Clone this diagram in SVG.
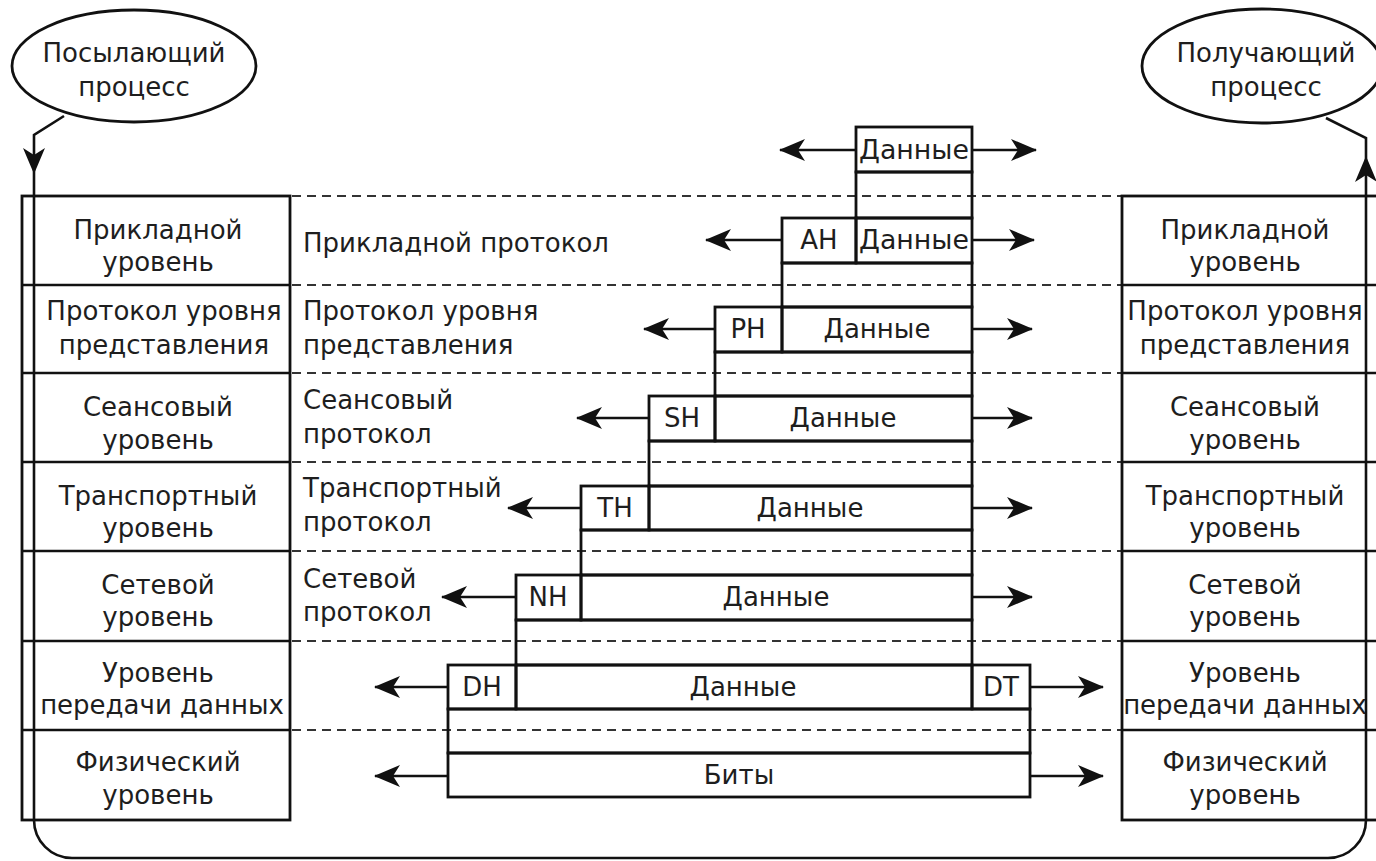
<svg xmlns="http://www.w3.org/2000/svg" xmlns:xlink="http://www.w3.org/1999/xlink" width="1376" height="861" viewBox="0 0 1376 861">
<style>
text{font-family:"DejaVu Sans","Liberation Sans",Arial,sans-serif;font-size:26px;fill:#1e1e1e}
.c{text-anchor:middle}
.box{fill:none;stroke:#111;stroke-width:2.8}
.ln{fill:none;stroke:#111;stroke-width:2.6}
.dash{fill:none;stroke:#333;stroke-width:2.2;stroke-dasharray:9 6}
.ah{fill:#111}
</style>
<defs>
<marker id="arr" viewBox="0 0 26 22" markerWidth="26" markerHeight="22" refX="25" refY="11" orient="auto" markerUnits="userSpaceOnUse">
<path d="M0,0 L26,11 L0,22 L7,11 z" fill="#111"/>
</marker>
<path id="head" d="M0,0 L-11,-26 L0,-19 L11,-26 z"/>
</defs>
<rect width="1376" height="861" fill="#fff"/>

<g id="dashes">
<line class="dash" x1="292" y1="196" x2="1122" y2="196"/>
<line class="dash" x1="292" y1="285" x2="1122" y2="285"/>
<line class="dash" x1="292" y1="373" x2="1122" y2="373"/>
<line class="dash" x1="292" y1="462" x2="1122" y2="462"/>
<line class="dash" x1="292" y1="551" x2="1122" y2="551"/>
<line class="dash" x1="292" y1="641" x2="1122" y2="641"/>
<line class="dash" x1="292" y1="730" x2="1122" y2="730"/>
</g>

<g id="sender">
<ellipse class="box" cx="134" cy="66" rx="122" ry="56"/>
<text class="c" x="134" y="62">Посылающий</text>
<text class="c" x="134" y="96">процесс</text>
</g>
<g id="receiver">
<ellipse class="box" cx="1262" cy="66" rx="120" ry="57"/>
<text class="c" x="1266" y="62">Получающий</text>
<text class="c" x="1266" y="96">процесс</text>
</g>

<g id="left-stack">
<rect class="box" x="22" y="196" width="268" height="624"/>
<line class="ln" x1="22" y1="285" x2="290" y2="285"/>
<line class="ln" x1="22" y1="373" x2="290" y2="373"/>
<line class="ln" x1="22" y1="462" x2="290" y2="462"/>
<line class="ln" x1="22" y1="551" x2="290" y2="551"/>
<line class="ln" x1="22" y1="641" x2="290" y2="641"/>
<line class="ln" x1="22" y1="730" x2="290" y2="730"/>
<text class="c" x="158" y="239">Прикладной</text>
<text class="c" x="158" y="271">уровень</text>
<text class="c" x="164" y="320">Протокол уровня</text>
<text class="c" x="164" y="354">представления</text>
<text class="c" x="158" y="416">Сеансовый</text>
<text class="c" x="158" y="449">уровень</text>
<text class="c" x="158" y="505">Транспортный</text>
<text class="c" x="158" y="537">уровень</text>
<text class="c" x="158" y="594">Сетевой</text>
<text class="c" x="158" y="626">уровень</text>
<text class="c" x="158" y="682">Уровень</text>
<text class="c" x="162" y="714">передачи данных</text>
<text class="c" x="158" y="771">Физический</text>
<text class="c" x="158" y="804">уровень</text>
</g>

<g id="right-stack">
<rect class="box" x="1122" y="196" width="260" height="624"/>
<line class="ln" x1="1122" y1="285" x2="1376" y2="285"/>
<line class="ln" x1="1122" y1="373" x2="1376" y2="373"/>
<line class="ln" x1="1122" y1="462" x2="1376" y2="462"/>
<line class="ln" x1="1122" y1="551" x2="1376" y2="551"/>
<line class="ln" x1="1122" y1="641" x2="1376" y2="641"/>
<line class="ln" x1="1122" y1="730" x2="1376" y2="730"/>
<text class="c" x="1245" y="239">Прикладной</text>
<text class="c" x="1245" y="271">уровень</text>
<text class="c" x="1245" y="320">Протокол уровня</text>
<text class="c" x="1245" y="354">представления</text>
<text class="c" x="1245" y="416">Сеансовый</text>
<text class="c" x="1245" y="449">уровень</text>
<text class="c" x="1245" y="505">Транспортный</text>
<text class="c" x="1245" y="537">уровень</text>
<text class="c" x="1245" y="594">Сетевой</text>
<text class="c" x="1245" y="626">уровень</text>
<text class="c" x="1245" y="682">Уровень</text>
<text class="c" x="1245" y="714">передачи данных</text>
<text class="c" x="1245" y="771">Физический</text>
<text class="c" x="1245" y="804">уровень</text>
</g>

<g id="protocols">
<text x="303" y="252">Прикладной протокол</text>
<text x="303" y="320">Протокол уровня</text>
<text x="303" y="354">представления</text>
<text x="303" y="409">Сеансовый</text>
<text x="303" y="443">протокол</text>
<text x="303" y="497">Транспортный</text>
<text x="303" y="531">протокол</text>
<text x="303" y="588">Сетевой</text>
<text x="303" y="621">протокол</text>
</g>

<g id="pdu-app">
<rect class="box" x="856" y="127" width="116" height="45"/>
<text class="c" x="914" y="159" textLength="110" lengthAdjust="spacingAndGlyphs">Данные</text>
<rect class="box" x="856" y="172" width="116" height="46"/>
<rect class="box" x="782" y="218" width="74" height="45"/>
<rect class="box" x="856" y="218" width="116" height="45"/>
<text class="c" x="819" y="249">AH</text>
<text class="c" x="914" y="249" textLength="110" lengthAdjust="spacingAndGlyphs">Данные</text>
<rect class="box" x="782" y="263" width="190" height="44"/>
</g>
<g id="pdu-pres">
<rect class="box" x="715" y="307" width="67" height="45"/>
<rect class="box" x="782" y="307" width="190" height="45"/>
<text class="c" x="748" y="338">PH</text>
<text class="c" x="877" y="338">Данные</text>
<rect class="box" x="715" y="352" width="257" height="44"/>
</g>
<g id="pdu-sess">
<rect class="box" x="649" y="396" width="66" height="45"/>
<rect class="box" x="715" y="396" width="257" height="45"/>
<text class="c" x="682" y="427">SH</text>
<text class="c" x="843" y="427">Данные</text>
<rect class="box" x="649" y="441" width="323" height="45"/>
</g>
<g id="pdu-trans">
<rect class="box" x="581" y="486" width="68" height="44"/>
<rect class="box" x="649" y="486" width="323" height="44"/>
<text class="c" x="615" y="517">TH</text>
<text class="c" x="810" y="517">Данные</text>
<rect class="box" x="581" y="530" width="391" height="45"/>
</g>
<g id="pdu-net">
<rect class="box" x="516" y="575" width="65" height="45"/>
<rect class="box" x="581" y="575" width="391" height="45"/>
<text class="c" x="548" y="606">NH</text>
<text class="c" x="776" y="606">Данные</text>
<rect class="box" x="516" y="620" width="456" height="45"/>
</g>
<g id="pdu-link">
<rect class="box" x="448" y="665" width="68" height="44"/>
<rect class="box" x="516" y="665" width="456" height="44"/>
<rect class="box" x="972" y="665" width="58" height="44"/>
<text class="c" x="482" y="696">DH</text>
<text class="c" x="743" y="696">Данные</text>
<text class="c" x="1001" y="696">DT</text>
<rect class="box" x="448" y="709" width="582" height="44"/>
</g>
<g id="pdu-phys">
<rect class="box" x="448" y="753" width="582" height="44"/>
<text class="c" x="739" y="784">Биты</text>
</g>

<g id="connectors">
<line class="ln" x1="856" y1="150" x2="780" y2="150" marker-end="url(#arr)"/>
<line class="ln" x1="972" y1="150" x2="1036" y2="150" marker-end="url(#arr)"/>
<line class="ln" x1="782" y1="240" x2="706" y2="240" marker-end="url(#arr)"/>
<line class="ln" x1="972" y1="240" x2="1034" y2="240" marker-end="url(#arr)"/>
<line class="ln" x1="715" y1="329" x2="644" y2="329" marker-end="url(#arr)"/>
<line class="ln" x1="972" y1="329" x2="1032" y2="329" marker-end="url(#arr)"/>
<line class="ln" x1="649" y1="418" x2="577" y2="418" marker-end="url(#arr)"/>
<line class="ln" x1="972" y1="418" x2="1032" y2="418" marker-end="url(#arr)"/>
<line class="ln" x1="581" y1="508" x2="508" y2="508" marker-end="url(#arr)"/>
<line class="ln" x1="972" y1="508" x2="1032" y2="508" marker-end="url(#arr)"/>
<line class="ln" x1="516" y1="597" x2="442" y2="597" marker-end="url(#arr)"/>
<line class="ln" x1="972" y1="597" x2="1032" y2="597" marker-end="url(#arr)"/>
<line class="ln" x1="448" y1="687" x2="375" y2="687" marker-end="url(#arr)"/>
<line class="ln" x1="1030" y1="687" x2="1103" y2="687" marker-end="url(#arr)"/>
<line class="ln" x1="448" y1="776" x2="375" y2="776" marker-end="url(#arr)"/>
<line class="ln" x1="1030" y1="776" x2="1103" y2="776" marker-end="url(#arr)"/>
<path class="ln" d="M64,116 L34,135 L34,820 A38,38 0 0 0 72,858 L1328,858 A38,38 0 0 0 1366,820 L1366,138 L1326,118"/>
<use href="#head" xlink:href="#head" class="ah" transform="translate(34,174)"/>
<use href="#head" xlink:href="#head" class="ah" transform="translate(1366,156) rotate(180)"/>
</g>
</svg>
